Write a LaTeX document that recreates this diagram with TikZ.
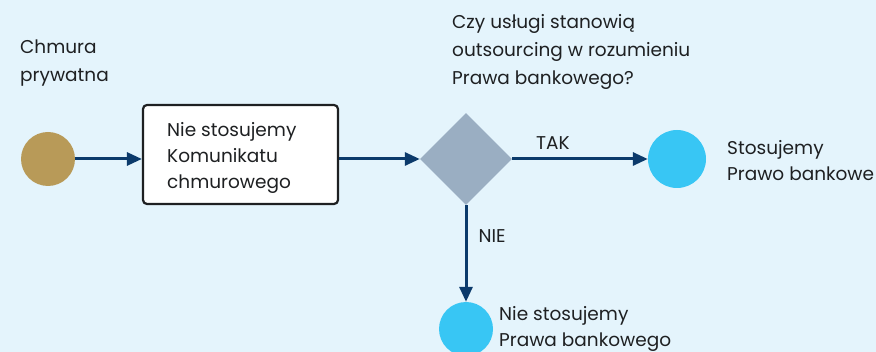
\documentclass[tikz,border=0pt]{standalone}
\usepackage{fontspec}
\setmainfont{Poppins}
\usepackage{tikz}
\usetikzlibrary{arrows.meta,shapes.geometric}
\definecolor{bg}{HTML}{E4F4FC}
\definecolor{navy}{HTML}{0B3A6B}
\definecolor{ink}{HTML}{1E2022}
\definecolor{gold}{HTML}{B89A58}
\definecolor{sky}{HTML}{38C6F4}
\definecolor{slate}{HTML}{9AAEC2}
\tikzset{
  flow/.style={draw=navy, line width=3pt, -{Triangle[length=15pt,width=13pt]}},
  lab/.style={text=ink, font=\fontsize{18.5}{28}\selectfont, align=left, inner sep=0pt, anchor=base west},
  labt/.style={lab, font=\fontsize{18.5}{26}\selectfont},
  start/.style={circle, fill=gold, minimum size=54pt, inner sep=0pt},
  stop/.style={circle, fill=sky, minimum size=58pt, inner sep=0pt},
  act/.style={draw=ink, fill=white, line width=2.2pt, rounded corners=4pt,
    minimum width=195pt, minimum height=99pt, inner sep=0pt},
  choice/.style={diamond, fill=slate, minimum size=92pt, inner sep=0pt},
}
\begin{document}
\begin{tikzpicture}[x=1pt,y=-1pt]
  \fill[bg] (0,0) rectangle (876,352);
  \useasboundingbox (0,0) rectangle (876,352);
  \clip (0,0) rectangle (876,352);
  \node[start] (prv) at (48,159) {};
  \node[act] (box) at (240.5,154.5) {};
  \node[choice] (q) at (466,159) {};
  \node[stop] (yes) at (677,159) {};
  \node[stop, minimum size=54pt] (no) at (466,329) {};
  % base anchor = baseline of the last line
  \node[lab] (prvt) at (20,82) {Chmura\\prywatna};
  \node[labt] (boxt) at (167,189) {Nie stosujemy\\Komunikatu\\chmurowego};
  \node[lab] (qt) at (452,85) {Czy usługi stanowią\\outsourcing w rozumieniu\\Prawa bankowego?};
  \node[labt] (yest) at (727,181) {Stosujemy\\Prawo bankowe};
  \node[labt] (not) at (499,347) {Nie stosujemy\\Prawa bankowego};
  \draw[flow] (prv) -- (prv -| box.west);
  \draw[flow] (box.east |- q) -- (q);
  \draw[flow] (q) -- node[lab, pos=0.3, anchor=south, above=8pt] (tak) {TAK} (yes);
  \draw[flow] (q) -- node[lab, pos=0.32, anchor=west, right=11pt] (nie) {NIE} (no);
\end{tikzpicture}
\end{document}
